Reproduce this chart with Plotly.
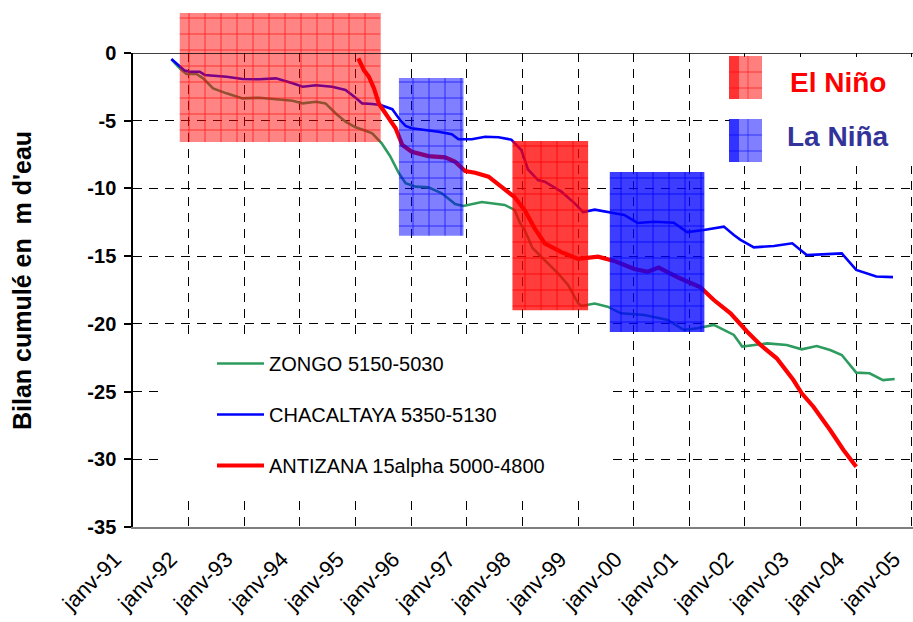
import plotly.graph_objects as go

# ---------------- data ----------------
zongo_t = [1991.69, 1991.84, 1991.96, 1992.14, 1992.26, 1992.44, 1992.68, 1992.97, 1993.27, 1993.57,
           1993.87, 1994.05, 1994.29, 1994.46, 1994.64, 1994.82, 1995.00, 1995.18, 1995.30, 1995.47,
           1995.62, 1995.78, 1995.90, 1996.08, 1996.31, 1996.55, 1996.79, 1996.94, 1997.27, 1997.68,
           1997.86, 1997.95, 1998.04, 1998.18, 1998.40, 1998.64, 1998.82, 1999.00, 1999.06, 1999.30,
           1999.53, 1999.77, 2000.19, 2000.61, 2000.90, 2001.14, 2001.44, 2001.56, 2001.80, 2001.95,
           2002.16, 2002.40, 2002.75, 2003.02, 2003.29, 2003.53, 2003.74, 2004.00, 2004.24, 2004.48,
           2004.69]
zongo_v = [-0.47, -1.13, -1.55, -1.55, -1.87, -2.61, -2.98, -3.35, -3.30, -3.42,
           -3.52, -3.72, -3.60, -3.72, -4.45, -5.07, -5.49, -5.74, -5.93, -6.67,
           -7.60, -8.88, -9.62, -9.87, -9.92, -10.36, -11.15, -11.30, -11.00, -11.22,
           -11.59, -12.50, -13.07, -14.40, -15.28, -16.27, -17.13, -18.48, -18.68, -18.50,
           -18.73, -19.22, -19.35, -19.71, -20.45, -20.33, -20.08, -20.33, -20.82, -21.68,
           -21.56, -21.44, -21.56, -21.88, -21.64, -21.93, -22.30, -23.60, -23.65, -24.15,
           -24.07]

chac_t = [1991.69, 1991.81, 1991.93, 1992.02, 1992.20, 1992.29, 1992.68, 1992.97, 1993.27, 1993.57,
          1993.69, 1993.87, 1994.05, 1994.29, 1994.58, 1994.82, 1995.00, 1995.12, 1995.30, 1995.45,
          1995.66, 1995.80, 1995.90, 1996.01, 1996.49, 1996.73, 1996.85, 1997.09, 1997.33, 1997.57,
          1997.80, 1997.98, 1998.10, 1998.28, 1998.40, 1998.70, 1998.94, 1999.09, 1999.30, 1999.59,
          1999.83, 2000.07, 2000.37, 2000.72, 2000.96, 2001.26, 2001.62, 2001.80, 2001.92, 2002.16,
          2002.52, 2002.85, 2003.11, 2003.74, 2004.00, 2004.36, 2004.66]
chac_v = [-0.45, -0.90, -1.30, -1.38, -1.38, -1.62, -1.75, -1.92, -1.94, -1.87,
          -2.04, -2.24, -2.49, -2.38, -2.49, -2.73, -3.30, -3.72, -3.77, -3.84,
          -4.15, -4.95, -5.39, -5.56, -5.81, -6.00, -6.37, -6.37, -6.18, -6.22,
          -6.40, -7.16, -8.60, -9.38, -9.50, -10.24, -11.10, -11.75, -11.57, -11.79,
          -11.96, -12.55, -12.46, -12.53, -13.22, -13.07, -12.82, -13.44, -13.80, -14.35,
          -14.25, -14.05, -14.92, -14.80, -16.02, -16.50, -16.55]

anti_t = [1995.05, 1995.15, 1995.24, 1995.33, 1995.42, 1995.60, 1995.72, 1995.84, 1996.01, 1996.31,
          1996.61, 1996.79, 1996.97, 1997.15, 1997.39, 1997.63, 1997.86, 1998.04, 1998.22, 1998.40,
          1998.70, 1999.00, 1999.36, 1999.68, 2000.01, 2000.25, 2000.45, 2000.80, 2001.20, 2001.44,
          2001.74, 2002.04, 2002.28, 2002.57, 2002.87, 2003.02, 2003.23, 2003.53, 2003.77, 2004.00]
anti_v = [-0.39, -1.26, -1.75, -2.60, -3.75, -4.85, -5.56, -6.79, -7.29, -7.61,
          -7.71, -8.03, -8.72, -8.84, -9.13, -9.90, -10.65, -11.60, -12.95, -14.05,
          -14.70, -15.20, -15.04, -15.40, -15.95, -16.15, -15.85, -16.58, -17.30, -18.24,
          -19.22, -20.58, -21.56, -22.54, -24.15, -25.13, -26.12, -27.84, -29.31, -30.55]

series_names = ["ZONGO 5150-5030", "CHACALTAYA 5350-5130", "ANTIZANA 15alpha 5000-4800"]
series_colors = ["#2e9b5f", "#0000ff", "#ff0000"]
series_widths = [2.6, 2.6, 4.2]

# ENSO periods (decimal years) and box vertical extents (m w.e.)
elnino_start = [1991.84, 1997.82]
elnino_end = [1995.45, 1999.18]
elnino_top = [2.95, -6.5]
elnino_bottom = [-6.57, -19.0]
elnino_alpha = [0.48, 0.76]

lanina_start = [1995.78, 1999.57]
lanina_end = [1996.94, 2001.27]
lanina_top = [-1.85, -8.79]
lanina_bottom = [-13.5, -20.6]
lanina_alpha = [0.5, 0.76]

years = list(range(1991, 2006))
year_labels = ["janv-%02d" % (y % 100) for y in years]
y_ticks = [0, -5, -10, -15, -20, -25, -30, -35]

# ---------------- layout geometry ----------------
W, H = 913, 622
ML, MR, MT, MB = 133, 0, 10, 95
PW, PH = W - ML - MR, H - MT - MB
AX_TOP_PX = 53                       # pixel row of value 0
main_top = (H - MB - AX_TOP_PX) / PH  # fraction of paper used by main y axis
y_min, y_max = -35, 0
y2_max = y_min + (y_max - y_min) / main_top
x_range = [1991, 2005.02]

FONT = "Liberation Sans, Arial, sans-serif"


def px_x(px):
    return (px - ML) / PW


def px_y(py):
    return (H - MB - py) / PH


fig = go.Figure()

for t, v, name, col, w in zip([zongo_t, chac_t, anti_t], [zongo_v, chac_v, anti_v],
                              series_names, series_colors, series_widths):
    fig.add_trace(go.Scatter(x=t, y=v, name=name, mode="lines",
                             line=dict(color=col, width=w),
                             legendgroup=name, hoverinfo="skip"))


def add_boxes(starts, ends, tops, bottoms, alphas, rgb):
    for s, e, tp, bt, a in zip(starts, ends, tops, bottoms, alphas):
        fig.add_trace(go.Scatter(
            x=[s, e, e, s, s], y=[bt, bt, tp, tp, bt],
            xaxis="x2", yaxis="y2", mode="lines", line=dict(width=0, color="rgba(0,0,0,0)"),
            fill="toself", fillcolor="rgba(%s,%.2f)" % (rgb, a),
            fillpattern=dict(shape="+", size=16, solidity=0.1, fillmode="replace",
                             bgcolor="rgba(%s,%.2f)" % (rgb, a),
                             fgcolor="rgba(%s,%.2f)" % (rgb, min(1, a + 0.3))),
            showlegend=False, hoverinfo="skip"))


add_boxes(elnino_start, elnino_end, elnino_top, elnino_bottom, elnino_alpha, "255,0,0")
add_boxes(lanina_start, lanina_end, lanina_top, lanina_bottom, lanina_alpha, "0,0,255")

dash = "9px,7px"
fig.update_layout(
    width=W, height=H,
    margin=dict(l=ML, r=MR, t=MT, b=MB),
    paper_bgcolor="white", plot_bgcolor="rgba(0,0,0,0)",
    font=dict(family=FONT, color="black"),
    xaxis=dict(range=x_range, domain=[0, 1], anchor="y",
               tickmode="array", tickvals=years, ticktext=year_labels, tickangle=-45,
               tickfont=dict(size=22, family=FONT), ticks="",
               ticklabelstandoff=9, ticklabelshift=-18, ticklabeloverflow="allow",
               showgrid=True, gridcolor="black", gridwidth=1.3, griddash=dash,
               showline=True, linecolor="#7f7f7f", linewidth=1.5, zeroline=False),
    yaxis=dict(range=[y_min, y_max], domain=[0, main_top], anchor="x",
               tickmode="array", tickvals=y_ticks, ticktext=[str(v) for v in y_ticks],
               tickfont=dict(size=20, family=FONT, weight="bold"),
               ticks="outside", ticklen=7, tickwidth=1.5, tickcolor="black",
               ticklabelstandoff=4,
               showgrid=True, gridcolor="black", gridwidth=1.3, griddash=dash,
               showline=True, linecolor="black", linewidth=1.5, zeroline=False),
    xaxis2=dict(range=x_range, domain=[0, 1], anchor="y2", visible=False),
    yaxis2=dict(range=[y_min, y2_max], domain=[0, 1], anchor="x2", visible=False),
    legend=dict(x=px_x(212), y=px_y(344), xanchor="left", yanchor="top",
                bgcolor="rgba(0,0,0,0)", font=dict(size=20, family=FONT, color="black"),
                itemwidth=47, tracegroupgap=22, traceorder="grouped"),
    showlegend=True,
)

shapes = []
# top frame line at value 0
shapes.append(dict(type="line", xref="paper", yref="y", x0=0, x1=1, y0=0, y1=0,
                   line=dict(color="black", width=1.5), layer="above"))
# white background behind the series legend
shapes.append(dict(type="rect", xref="paper", yref="paper",
                   x0=px_x(160), x1=px_x(607), y0=px_y(497), y1=px_y(335),
                   fillcolor="white", line=dict(width=0), layer="above"))
# white background behind the ENSO key
shapes.append(dict(type="rect", xref="paper", yref="paper",
                   x0=px_x(730), x1=1, y0=px_y(166), y1=px_y(57),
                   fillcolor="white", line=dict(width=0), layer="above"))
# ENSO key swatches
for (top, bot, rgb) in [(56, 99, "255,0,0"), (119, 162, "0,0,255")]:
    shapes.append(dict(type="rect", xref="paper", yref="paper",
                       x0=px_x(729), x1=px_x(762), y0=px_y(bot), y1=px_y(top),
                       fillcolor="rgba(%s,0.5)" % rgb, line=dict(width=0), layer="above"))
    shapes.append(dict(type="rect", xref="paper", yref="paper",
                       x0=px_x(729), x1=px_x(739), y0=px_y(bot), y1=px_y(top),
                       fillcolor="rgba(%s,0.6)" % rgb, line=dict(width=0), layer="above"))
    for dy in (16, 32):
        shapes.append(dict(type="line", xref="paper", yref="paper",
                           x0=px_x(729), x1=px_x(762), y0=px_y(top + dy), y1=px_y(top + dy),
                           line=dict(color="rgba(%s,0.6)" % rgb, width=1), layer="above"))
    shapes.append(dict(type="line", xref="paper", yref="paper",
                       x0=px_x(748), x1=px_x(748), y0=px_y(bot), y1=px_y(top),
                       line=dict(color="rgba(%s,0.5)" % rgb, width=1), layer="above"))
fig.update_layout(shapes=shapes)

annotations = [
    dict(text="El Niño", xref="paper", yref="paper", x=px_x(788), y=px_y(82),
         xanchor="left", yanchor="middle", showarrow=False,
         font=dict(size=28, family=FONT, color="#ff0000", weight="bold")),
    dict(text="La Niña", xref="paper", yref="paper", x=px_x(785), y=px_y(136),
         xanchor="left", yanchor="middle", showarrow=False,
         font=dict(size=28, family=FONT, color="#333399", weight="bold")),
    dict(text="Bilan cumulé en\u00a0 m d'eau", xref="paper", yref="paper",
         x=px_x(22), y=px_y(281), xanchor="center", yanchor="middle", textangle=-90,
         showarrow=False, font=dict(size=25, family=FONT, color="black", weight="bold")),
]
fig.update_layout(annotations=annotations)

fig.write_html("out.html")
